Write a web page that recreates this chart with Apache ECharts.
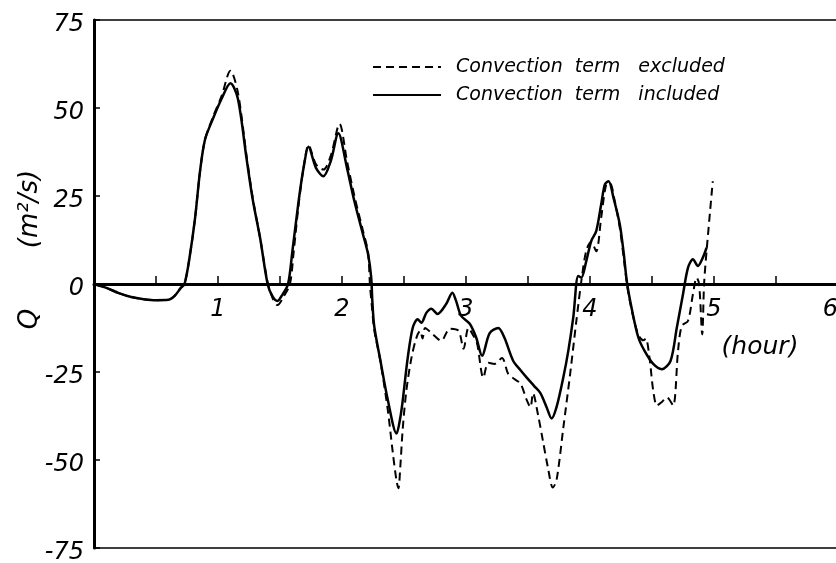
<!DOCTYPE html>
<html>
<head>
<meta charset="utf-8">
<script src="https://cdn.jsdelivr.net/npm/echarts@6/dist/echarts.min.js"></script>
<style>html,body{margin:0;padding:0;background:#fff}#c{width:836px;height:563px}</style>
</head>
<body>
<div id="c"></div>
<script>
// Time (hour) and discharge Q (m²/s), convection term included (solid)
const tIncluded = [0,0.1,0.2,0.3,0.4,0.5,0.6,0.65,0.7,0.73,0.77,0.815,0.855,0.895,0.96,1.03,1.10,1.16,1.23,1.28,1.34,1.40,1.44,1.48,1.52,1.565,1.60,1.65,1.69,1.73,1.79,1.85,1.91,1.97,2.04,2.10,2.17,2.21,2.235,2.245,2.26,2.31,2.37,2.44,2.47,2.49,2.53,2.57,2.61,2.64,2.68,2.72,2.77,2.84,2.89,2.92,2.96,3.03,3.08,3.13,3.19,3.26,3.31,3.38,3.44,3.49,3.55,3.60,3.65,3.69,3.73,3.785,3.825,3.865,3.905,3.93,3.97,4.01,4.05,4.09,4.12,4.15,4.19,4.24,4.27,4.30,4.34,4.39,4.44,4.51,4.58,4.65,4.70,4.75,4.79,4.83,4.87,4.91,4.94];
const qIncluded = [0,-1.1,-2.6,-3.7,-4.3,-4.6,-4.5,-3.4,-1.1,0,7.4,18.7,32,41,47,52.7,57,52.7,35.7,24,13,0,-3.5,-4.8,-3,0,9.3,23.5,33,39,33,30.6,35,42.8,33,23.5,14,8.5,2,-5,-12,-21.8,-33,-42.5,-38,-33,-21,-12.5,-10,-11,-8.2,-7,-8.5,-5.7,-2.5,-4.8,-9,-11.3,-15,-20.4,-14,-12.5,-15.3,-21.8,-24.5,-26.6,-29,-31,-35,-38.2,-35,-26.5,-19,-9.5,2.3,1.8,6.5,12.2,15,22.6,28.3,29.2,24.4,17,9.3,0,-7.6,-15.2,-19,-22.7,-24.2,-21.8,-12.4,-2.9,4.6,7,5.1,7.5,10.3];

// Convection term excluded (dashed)
const tExcluded = [0,0.1,0.2,0.3,0.4,0.5,0.6,0.65,0.7,0.73,0.77,0.815,0.855,0.895,0.96,1.03,1.10,1.16,1.23,1.28,1.34,1.40,1.44,1.48,1.53,1.58,1.61,1.65,1.69,1.73,1.79,1.85,1.91,1.98,2.04,2.10,2.17,2.21,2.225,2.24,2.26,2.31,2.37,2.41,2.44,2.455,2.47,2.49,2.52,2.56,2.60,2.63,2.65,2.67,2.73,2.80,2.87,2.94,2.98,3.02,3.06,3.09,3.14,3.18,3.23,3.29,3.34,3.39,3.44,3.49,3.52,3.54,3.58,3.62,3.66,3.70,3.73,3.785,3.84,3.89,3.93,3.97,4.01,4.05,4.09,4.13,4.16,4.20,4.24,4.27,4.30,4.34,4.39,4.43,4.45,4.48,4.51,4.54,4.58,4.62,4.67,4.71,4.74,4.79,4.83,4.86,4.88,4.905,4.92,4.94,4.99];
const qExcluded = [0,-1.1,-2.6,-3.7,-4.3,-4.6,-4.5,-3.4,-1.1,0,7.4,18.7,32,41,47.5,53.5,60.6,54.5,36.5,24.5,13,0.5,-4,-6,-3.5,0,9,22.5,33,39.5,34,32.5,36.5,45.5,35,25,15,9,0,-6,-13,-22,-36,-48,-56,-58,-52,-41,-30,-21,-15.3,-13.3,-15.5,-12.5,-14.2,-16.1,-12.7,-13.3,-18.4,-12.5,-14.7,-17,-26.6,-22.4,-22.7,-21,-25.5,-27,-28.3,-33,-35,-31,-37,-44.5,-52,-57.8,-55.8,-40.8,-25.5,-10.5,0.8,9.5,12,9.3,18.8,28.2,28.7,23.5,16,8,-0.5,-8,-14.5,-16,-15.5,-21,-30.3,-34.5,-33.5,-32.2,-34.5,-19,-11.9,-10.5,-2.9,1.8,0,-14.3,0,9.3,29.2];

const yTicks = [-75,-50,-25,0,25,50,75];
const xLabelHours = [1,2,3,4,5,6];

const FONT = 'DejaVu Sans';
const pairs = (t, q) => t.map((v, i) => [v, q[i]]);

const GRID_TOP = 20, GRID_BOTTOM = 15, H = 563;
const zeroOffset = -(H - GRID_TOP - GRID_BOTTOM) / 2;

const chart = echarts.init(document.getElementById('c'), null, {renderer: 'canvas'});
chart.setOption({
  animation: false,
  backgroundColor: '#fff',
  grid: {left: 94, right: -2, top: GRID_TOP, bottom: GRID_BOTTOM, outerBoundsMode: 'none', containLabel: false,
         show: true, borderColor: '#000', borderWidth: 1.5, backgroundColor: 'transparent'},
  legend: {
    orient: 'vertical', left: 372, top: 57, padding: 0,
    itemWidth: 68, itemHeight: 14, itemGap: 8,
    itemStyle: {color: 'rgba(0,0,0,0)', borderWidth: 0},
    textStyle: {fontFamily: FONT, fontStyle: 'italic', fontSize: 19, color: '#000', padding: [0, 0, 0, 10], lineHeight: 20},
    data: ['Convection  term   excluded', 'Convection  term   included']
  },
  xAxis: {
    type: 'value', min: 0, max: 6, interval: 0.5,
    position: 'bottom', offset: zeroOffset,
    axisLine: {onZero: false, lineStyle: {color: '#000', width: 3}},
    axisTick: {inside: true, length: 8, lineStyle: {color: '#000', width: 1.5}},
    splitLine: {show: false},
    axisLabel: {
      margin: 14, fontFamily: FONT, fontStyle: 'italic', fontSize: 24, color: '#000',
      alignMaxLabel: 'right',
      formatter: v => xLabelHours.indexOf(v) >= 0 ? String(v) : ''
    }
  },
  yAxis: {
    type: 'value', min: yTicks[0], max: yTicks[yTicks.length - 1], interval: 25,
    axisLine: {onZero: false, lineStyle: {color: '#000', width: 3}},
    axisTick: {inside: true, length: 6, lineStyle: {color: '#000', width: 1.5}},
    splitLine: {show: false},
    axisLabel: {margin: 10, fontFamily: FONT, fontStyle: 'italic', fontSize: 24, color: '#000',
                verticalAlign: 'top', lineHeight: 10}
  },
  graphic: [
    {type: 'text', x: 30, y: 209, rotation: Math.PI / 2,
     style: {text: '(m²/s)', fontFamily: FONT, fontStyle: 'italic', fontSize: 26, fill: '#000', align: 'center', verticalAlign: 'middle'}},
    {type: 'text', x: 30, y: 319, rotation: Math.PI / 2,
     style: {text: 'Q', fontFamily: FONT, fontStyle: 'italic', fontSize: 26, fill: '#000', align: 'center', verticalAlign: 'middle'}},
    {type: 'text', x: 760, y: 347,
     style: {text: '(hour)', fontFamily: FONT, fontStyle: 'italic', fontSize: 25, fill: '#000', align: 'center', verticalAlign: 'middle'}}
  ],
  series: [
    {name: 'Convection  term   excluded', type: 'line', symbol: 'none', smooth: 0.3, z: 2,
     lineStyle: {color: '#000', width: 2, type: [8, 5]}, itemStyle: {color: '#000'},
     data: pairs(tExcluded, qExcluded)},
    {name: 'Convection  term   included', type: 'line', symbol: 'none', smooth: 0.3, z: 3,
     lineStyle: {color: '#000', width: 2.5}, itemStyle: {color: '#000'},
     data: pairs(tIncluded, qIncluded)}
  ]
});
</script>
</body>
</html>
